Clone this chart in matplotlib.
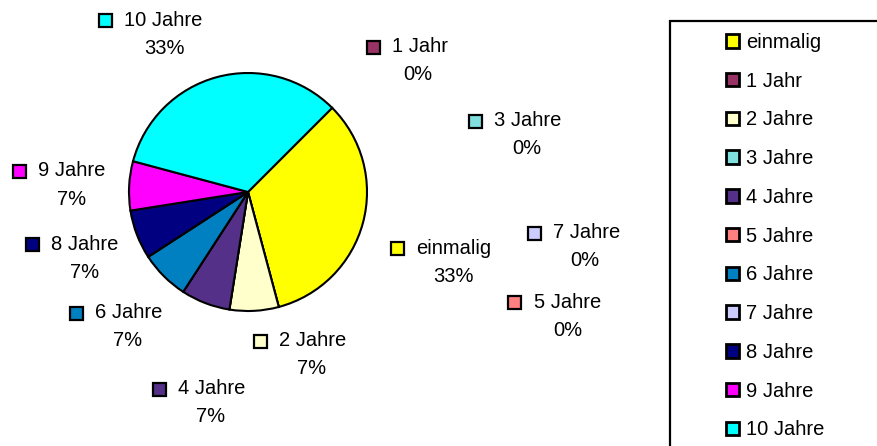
import numpy as np
import matplotlib
matplotlib.use('Agg')
from matplotlib import pyplot as plt
from matplotlib.patches import Rectangle

plt.rcParams['font.family'] = ['Liberation Sans', 'DejaVu Sans']

# data
labels = ['einmalig', '1 Jahr', '2 Jahre', '3 Jahre', '4 Jahre', '5 Jahre',
          '6 Jahre', '7 Jahre', '8 Jahre', '9 Jahre', '10 Jahre']
counts = [5, 0, 1, 0, 1, 0, 1, 0, 1, 1, 5]
colors = ['#FFFF00', '#993366', '#FFFFCC', '#80E0E0', '#553089', '#FF8080',
          '#0080C0', '#CCCCFF', '#000080', '#FF00FF', '#00FFFF']

# label layout in pixels: marker centre (x, y), percent centre x
label_pos = {
    'einmalig': (397, 248, 453),
    '1 Jahr': (373, 47, 418),
    '2 Jahre': (260, 341, 312),
    '3 Jahre': (475, 121, 527),
    '4 Jahre': (159, 389, 211),
    '5 Jahre': (515, 302, 568),
    '6 Jahre': (76, 313, 128),
    '7 Jahre': (534, 233, 585),
    '8 Jahre': (32, 244, 85),
    '9 Jahre': (19, 171, 72),
    '10 Jahre': (105, 20, 164),
}

W, H = 877, 446
fig = plt.figure(figsize=(W / 100, H / 100), dpi=100)
fs = 14.5

def fx(x):
    return x / W

def fy(y):
    return 1 - y / H

# pie
cx, cy, r = 248, 192, 119
ax = fig.add_axes([fx(cx - r), fy(cy + r), 2 * r / W, 2 * r / H])
wedges, _ = ax.pie(counts, colors=colors, startangle=45, counterclock=False,
                   wedgeprops=dict(edgecolor='black', linewidth=1.5))
ax.set_xlim(-1.0, 1.0)
ax.set_ylim(-1.0, 1.0)
ax.set_aspect('auto')

total = sum(counts)
msz = 13
for lab, c, col in zip(labels, counts, colors):
    mx, my, px = label_pos[lab]
    fig.patches.append(Rectangle((fx(mx - msz / 2), fy(my + msz / 2)), msz / W, msz / H,
                                 transform=fig.transFigure, facecolor=col,
                                 edgecolor='black', linewidth=1.6))
    fig.text(fx(mx + 19), fy(my), lab, fontsize=fs, va='center', ha='left')
    fig.text(fx(px), fy(my + 28), '%d%%' % round(100 * c / total),
             fontsize=fs, va='center', ha='center')

# legend box
fig.patches.append(Rectangle((fx(670), fy(460)), (W + 20 - 670) / W, (460 - 21) / H,
                             transform=fig.transFigure, facecolor='none',
                             edgecolor='black', linewidth=1.6, clip_on=False))
leg = fig.legend(wedges, labels, loc='upper left', bbox_to_anchor=(fx(726), fy(33)),
                 frameon=False, fontsize=fs, handlelength=0.66, handleheight=0.66,
                 handletextpad=0.33, labelspacing=0.98, borderpad=0, borderaxespad=0)
for h in leg.legend_handles:
    h.set_linewidth(2)

fig.savefig('out.png', dpi=100)
